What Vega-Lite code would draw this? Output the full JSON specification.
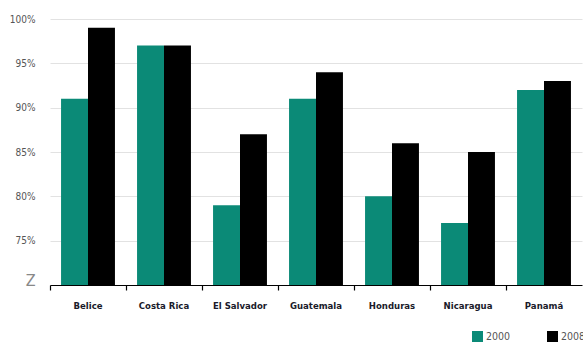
{
  "$schema": "https://vega.github.io/schema/vega-lite/v6.json",
  "width": 532,
  "height": 266,
  "autosize": "none",
  "padding": {"left": 50, "top": 19, "right": 1, "bottom": 58},
  "background": "white",
  "config": {"view": {"stroke": null}, "font": "DejaVu Sans Condensed"},
  "data": {"values": [
    {"country": "Belice", "year": "2000", "value": 91},
    {"country": "Belice", "year": "2008", "value": 99},
    {"country": "Costa Rica", "year": "2000", "value": 97},
    {"country": "Costa Rica", "year": "2008", "value": 97},
    {"country": "El Salvador", "year": "2000", "value": 79},
    {"country": "El Salvador", "year": "2008", "value": 87},
    {"country": "Guatemala", "year": "2000", "value": 91},
    {"country": "Guatemala", "year": "2008", "value": 94},
    {"country": "Honduras", "year": "2000", "value": 80},
    {"country": "Honduras", "year": "2008", "value": 86},
    {"country": "Nicaragua", "year": "2000", "value": 77},
    {"country": "Nicaragua", "year": "2008", "value": 85},
    {"country": "Panamá", "year": "2000", "value": 92},
    {"country": "Panamá", "year": "2008", "value": 93}
  ]},
  "mark": {"type": "bar", "clip": true},
  "encoding": {
    "x": {
      "field": "country", "type": "nominal", "sort": null,
      "scale": {"paddingInner": 0, "paddingOuter": 0},
      "axis": {
        "title": null, "labelAngle": 0, "bandPosition": 0,
        "domainColor": "#000", "domainWidth": 1.2,
        "tickColor": "#000", "tickSize": 5, "tickWidth": 1.2,
        "labelFontWeight": "bold", "labelFontSize": 9.5, "labelColor": "#1a1a2a",
        "labelPadding": 10, "grid": false
      }
    },
    "xOffset": {"field": "year", "type": "nominal", "scale": {"paddingInner": 0, "paddingOuter": 0.41}},
    "y": {
      "field": "value", "type": "quantitative",
      "scale": {"domain": [70, 100], "nice": false, "zero": false},
      "axis": {
        "title": null, "values": [70, 75, 80, 85, 90, 95, 100],
        "labelExpr": "datum.value == 70 ? 'Z' : datum.value + '%'",
        "labelFontSize": {"condition": {"test": "datum.value == 70", "value": 16}, "value": 10},
        "labelColor": {"condition": {"test": "datum.value == 70", "value": "#888"}, "value": "#555"},
        "labelOffset": {"condition": {"test": "datum.value == 70", "value": -5}, "value": 0},
        "domain": false, "ticks": false, "labelPadding": 15,
        "gridColor": {"condition": {"test": "datum.value == 70", "value": "transparent"}, "value": "#e2e2e2"},
        "gridWidth": 1
      }
    },
    "y2": {"datum": 70},
    "color": {
      "field": "year", "type": "nominal",
      "scale": {"domain": ["2000", "2008"], "range": ["#0b8a77", "#000000"]},
      "legend": {
        "title": null, "orient": "none", "legendX": 422, "legendY": 312,
        "direction": "horizontal", "symbolType": "square", "symbolSize": 121,
        "symbolStrokeWidth": 0, "labelFontSize": 10.5, "labelColor": "#555",
        "columnPadding": 36, "labelOffset": 3
      }
    }
  }
}
